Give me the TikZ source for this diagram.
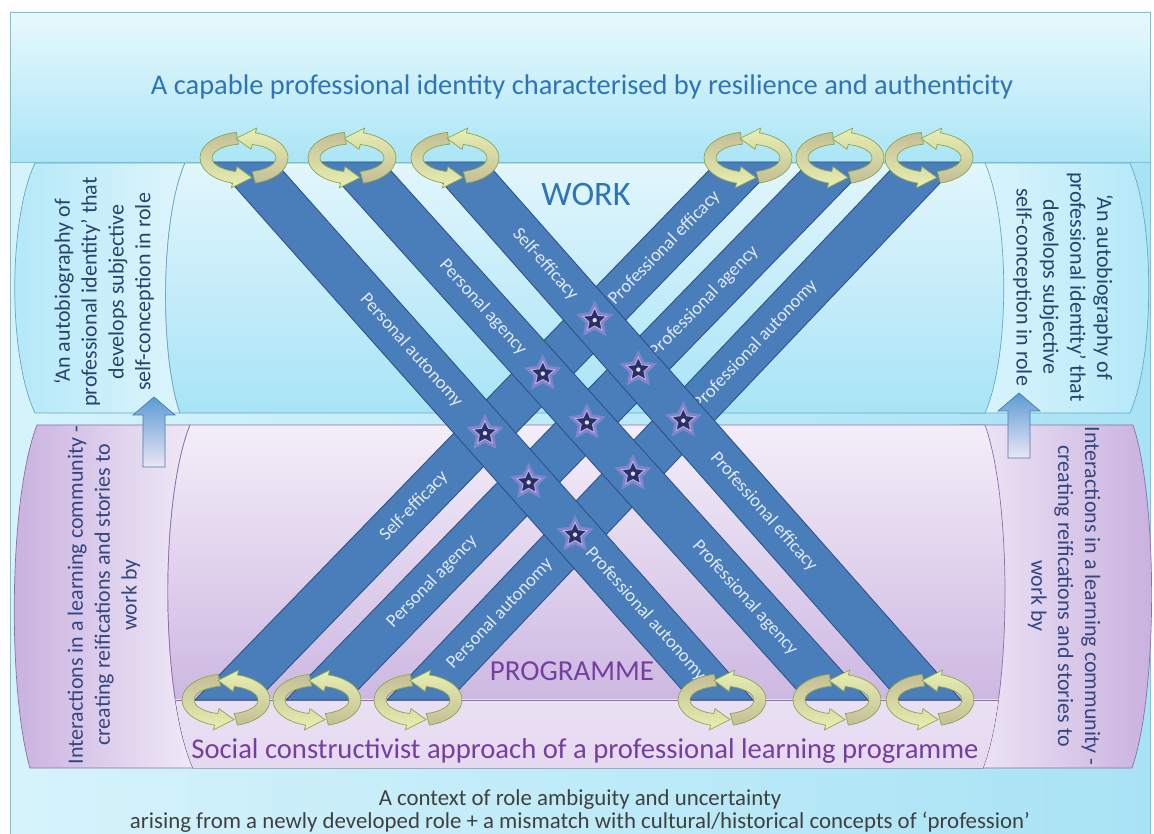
\documentclass[tikz,border=0pt]{standalone}
\usepackage{fontspec}
\setmainfont{Carlito}
\usetikzlibrary{shapes.geometric, arrows.meta, calc}

\definecolor{framecyan}{RGB}{120,195,215}
\definecolor{bgleft}{RGB}{214,243,251}
\definecolor{bgright}{RGB}{168,227,245}
\definecolor{bandtop}{RGB}{232,249,253}
\definecolor{bandbot}{RGB}{170,229,246}
\definecolor{worktop}{RGB}{226,246,252}
\definecolor{workbot}{RGB}{168,228,246}
\definecolor{workcap}{RGB}{178,232,248}
\definecolor{workpale}{RGB}{222,245,252}
\definecolor{workedge}{RGB}{100,170,195}
\definecolor{progtop}{RGB}{244,238,249}
\definecolor{progbot}{RGB}{196,170,220}
\definecolor{proglow}{RGB}{234,224,243}
\definecolor{progcap}{RGB}{200,176,222}
\definecolor{progpale}{RGB}{240,233,247}
\definecolor{progedge}{RGB}{140,110,170}
\definecolor{titleblue}{RGB}{46,117,182}
\definecolor{progpurple}{RGB}{118,62,160}
\definecolor{sideblue}{RGB}{38,68,110}
\definecolor{sideviolet}{RGB}{50,70,130}
\definecolor{contextgray}{RGB}{64,64,64}
\definecolor{stripblue}{RGB}{74,126,187}
\definecolor{stripedge}{RGB}{42,82,135}
\definecolor{striplabel}{RGB}{225,234,246}
\definecolor{starnavy}{RGB}{40,48,100}
\definecolor{starglow}{RGB}{150,135,210}
\definecolor{ringtail}{RGB}{196,190,150}
\definecolor{ringhead}{RGB}{232,240,178}
\definecolor{ringline}{RGB}{140,165,80}
\definecolor{liftblue}{RGB}{91,155,213}
\definecolor{liftpale}{RGB}{236,230,244}

\tikzstyle{strand} = [fill=stripblue, draw=stripedge, line width=0.5pt]
\tikzstyle{strandtext} = [text=striplabel, font=\fontsize{10.5}{12}\selectfont, inner sep=1pt]
\tikzstyle{sidetext} = [align=center, font=\fontsize{12.5}{15.3}\selectfont]
\tikzstyle{starhalo} = [star, star points=5, star point ratio=2.0, minimum size=0.78cm, inner sep=0pt, fill=starglow, opacity=0.75]
\tikzstyle{starmark} = [star, star points=5, star point ratio=2.1, minimum size=0.5cm, inner sep=0pt, fill=starnavy, draw=starglow!70!white, line width=0.6pt]
\tikzstyle{liftarrow} = [draw=liftblue!80!black, line width=0.4pt, top color=liftblue, bottom color=liftpale]

% a pair of curved arrows looping round the end of a strip
\newcommand{\loopring}[2]{%
  \begin{scope}[shift={(#1,#2)}]
    \draw[ringline, line width=0.4pt, top color=ringtail, bottom color=ringhead]
      (100:44 and 26) arc[start angle=100, end angle=255, x radius=44, y radius=26]
      -- (255:49 and 31) -- (282:38 and 20) -- (255:27 and 9) -- (255:32 and 14)
      arc[start angle=255, end angle=100, x radius=32, y radius=14] -- cycle;
    \draw[ringline, line width=0.4pt, bottom color=ringtail, top color=ringhead]
      (-75:44 and 26) arc[start angle=-75, end angle=75, x radius=44, y radius=26]
      -- (75:49 and 31) -- (102:38 and 20) -- (75:27 and 9) -- (75:32 and 14)
      arc[start angle=75, end angle=-75, x radius=32, y radius=14] -- cycle;
  \end{scope}}

\begin{document}
\begin{tikzpicture}[x=0.02cm, y=0.02cm]
  \useasboundingbox (0,0) rectangle (1154,-834);

  % background and top band
  \begin{scope}
    \clip (0,0) rectangle (1154,-834);
    \draw[draw=framecyan, left color=bgleft, right color=bgright] (10,-12) rectangle (1150,-860);
  \end{scope}
  \draw[draw=framecyan, top color=bandtop, bottom color=bandbot] (10,-12) rectangle (1150,-162);

  % WORK cylinder
  \draw[draw=workedge, line width=0.4pt, left color=workcap, right color=workpale]
    (35,-163) .. controls (8,-220) and (8,-356) .. (35,-413) -- (180,-413)
    .. controls (160,-356) and (160,-220) .. (185,-163) -- cycle;
  \draw[draw=workedge, line width=0.4pt, left color=workpale, right color=workcap]
    (960,-163) -- (1130,-163) .. controls (1155,-220) and (1155,-356) .. (1130,-413) -- (960,-413) -- cycle;
  \draw[draw=workedge, line width=0.4pt, top color=worktop, bottom color=workbot]
    (185,-163) -- (985,-163) .. controls (1010,-220) and (1010,-356) .. (985,-413) -- (180,-413)
    .. controls (160,-356) and (160,-220) .. (185,-163) -- cycle;

  % PROGRAMME cylinder
  \draw[draw=progedge, line width=0.4pt, left color=progcap, right color=progpale]
    (37,-425) .. controls (8,-500) and (8,-693) .. (30,-768) -- (193,-768)
    .. controls (160,-693) and (160,-500) .. (190,-425) -- cycle;
  \draw[draw=progedge, line width=0.4pt, left color=progpale, right color=progcap]
    (960,-425) -- (1133,-425) .. controls (1158,-500) and (1158,-693) .. (1132,-768) -- (960,-768) -- cycle;
  \draw[draw=progedge, line width=0.4pt, top color=progtop, bottom color=progbot]
    (190,-425) -- (985,-425) .. controls (1012,-500) and (1012,-693) .. (983,-768) -- (193,-768)
    .. controls (160,-693) and (160,-500) .. (190,-425) -- cycle;
  \begin{scope}
    \clip (190,-425) -- (985,-425) .. controls (1012,-500) and (1012,-693) .. (983,-768) -- (193,-768)
      .. controls (160,-693) and (160,-500) .. (190,-425) -- cycle;
    \fill[top color=proglow, bottom color=proglow!85!progcap] (150,-700) rectangle (1020,-770);
    \draw[progedge, line width=0.5pt] (150,-700) -- (1020,-700);
  \end{scope}

  % arrows lifting the programme into work
  \draw[liftarrow] (154,-397) -- (175,-415) -- (165,-415) -- (165,-467) -- (143,-467) -- (143,-415) -- (133,-415) -- cycle;
  \draw[liftarrow] (1019,-393) -- (1040,-411) -- (1030,-411) -- (1030,-458) -- (1008,-458) -- (1008,-411) -- (998,-411) -- cycle;

  % headings
  \node[text=titleblue, font=\fontsize{16.2}{19}\selectfont] (identity) at (582,-87)
    {A capable professional identity characterised by resilience and authenticity};
  \node[text=titleblue, font=\fontsize{19.5}{22}\selectfont] (work) at (586,-195) {WORK};
  \node[text=progpurple, font=\fontsize{16.5}{20}\selectfont] (programme) at (572,-671) {PROGRAMME};
  \node[text=progpurple, font=\fontsize{16.3}{19}\selectfont] (approach) at (585,-751)
    {Social constructivist approach of a professional learning programme};
  \node[text=contextgray, font=\fontsize{13}{15}\selectfont] (context) at (580,-800)
    {A context of role ambiguity and uncertainty};
  \node[text=contextgray, font=\fontsize{13}{15}\selectfont] (mismatch) at (580,-822)
    {arising from a newly developed role + a mismatch with cultural/historical concepts of ‘profession’};

  % side texts
  \node[sidetext, text=sideblue, rotate=90] (autoleft) at (104,-292)
    {‘An autobiography of\\professional identity’ that\\develops subjective\\self-conception in role};
  \node[sidetext, text=sideblue, rotate=-90] (autoright) at (1063,-287)
    {‘An autobiography of\\professional identity’ that\\develops subjective\\self-conception in role};
  \node[sidetext, text=sideviolet, rotate=90] (commleft) at (104,-595)
    {Interactions in a learning community -\\creating reifications  and stories to\\work by};
  \node[sidetext, text=sideviolet, rotate=-90] (commright) at (1064,-596)
    {Interactions in a learning community -\\creating reifications  and stories to\\work by};

  % rising strips
  \foreach \p/\q/\i/\pa/\la/\pb/\lb in {226/748/1/0.36/Self-efficacy/0.84/Professional efficacy,
      317/840/2/0.22/Personal agency/0.74/Professional agency,
      418/929/3/0.16/Personal autonomy/0.66/Professional autonomy} {
    \coordinate (a\i b) at (\p,-700);
    \coordinate (a\i t) at (\q,-162);
    \draw[strand] (\p-31,-700) -- (\p+31,-700) -- (\q+31,-162) -- (\q-31,-162) -- cycle;
    \path (a\i b) -- (a\i t) node[strandtext, sloped, pos=\pa] {\la} node[strandtext, sloped, pos=\pb] {\lb};
  }
  % falling strips
  \foreach \t/\b/\i/\pa/\la/\pb/\lb in {244/722/1/0.35/Personal autonomy/0.84/Professional autonomy,
      352/837/2/0.27/Personal agency/0.81/Professional agency,
      455/930/3/0.19/Self-efficacy/0.65/Professional efficacy} {
    \coordinate (d\i t) at (\t,-162);
    \coordinate (d\i b) at (\b,-700);
    \draw[strand] (\t-31,-162) -- (\t+31,-162) -- (\b+31,-700) -- (\b-31,-700) -- cycle;
    \path (d\i t) -- (d\i b) node[strandtext, sloped, pos=\pa] {\la} node[strandtext, sloped, pos=\pb] {\lb};
  }

  % stars where the strips cross
  \foreach \i in {1,2,3} {
    \foreach \j in {1,2,3} {
      \node[starhalo] at (intersection of d\i t--d\i b and a\j b--a\j t) {};
      \node[starmark] (x\i\j) at (intersection of d\i t--d\i b and a\j b--a\j t) {};
      \fill[starglow!30!white] (x\i\j.center) circle (2.2);
    }
  }

  % loops at the strip ends
  \foreach \x in {244,352,455,748,840,929} { \loopring{\x}{-158} }
  \foreach \x in {226,317,418,722,837,930} { \loopring{\x}{-700} }
\end{tikzpicture}
\end{document}
